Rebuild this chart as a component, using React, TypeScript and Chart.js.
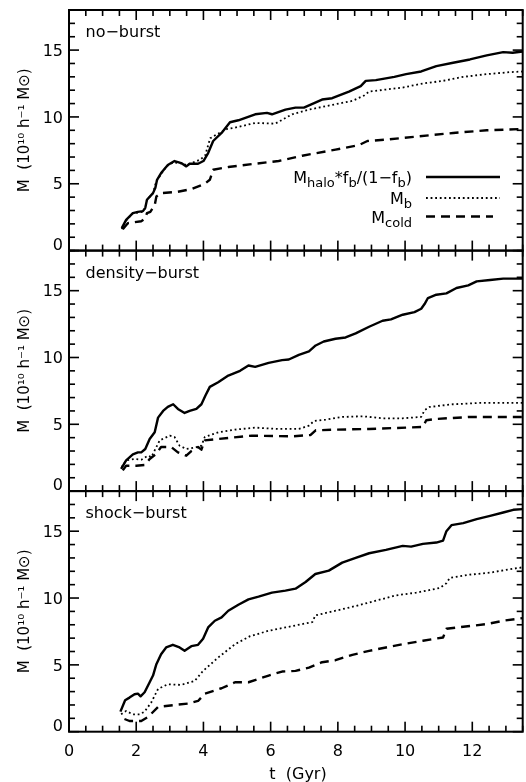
import React, { useEffect, useRef } from "react";
import { Chart, registerables } from "chart.js";

Chart.register(...registerables);

// ---------- data (t in Gyr, M in 1e10 h^-1 Msun) ----------
// no-burst
const tNoHalo = [
  1.57, 1.7, 1.9, 2.05, 2.2, 2.27, 2.32, 2.5, 2.57, 2.62,
  2.74, 2.94, 3.14, 3.34, 3.49, 3.59, 3.84, 4.0, 4.14, 4.29,
  4.54, 4.79, 5.04, 5.54, 5.89, 6.04, 6.44, 6.74, 6.99, 7.53,
  7.83, 8.33, 8.68, 8.83, 9.13, 9.68, 10.03, 10.48, 10.93, 11.43,
  11.93, 12.43, 12.92, 13.2, 13.5,
];
const mNoHalo = [
  1.68, 2.3, 2.8, 2.9, 2.95, 3.2, 3.8, 4.3, 4.7, 5.3,
  5.8, 6.4, 6.7, 6.55, 6.3, 6.5, 6.5, 6.7, 7.3, 8.2,
  8.8, 9.6, 9.75, 10.2, 10.3, 10.2, 10.55, 10.7, 10.7, 11.3,
  11.4, 11.9, 12.3, 12.7, 12.75, 13.0, 13.2, 13.4, 13.8, 14.05,
  14.3, 14.6, 14.85, 14.8, 14.9,
];
const tNoB = [
  1.57, 1.7, 1.9, 2.2, 2.27, 2.32, 2.5, 2.6, 2.9, 3.1,
  3.3, 3.5, 3.7, 3.9, 4.05, 4.2, 4.4, 4.7, 4.94, 5.54,
  6.14, 6.64, 7.14, 7.83, 8.43, 8.78, 8.93, 9.43, 9.93, 10.53,
  11.13, 11.73, 12.43, 13.12, 13.5,
];
const mNoB = [
  1.6, 2.25, 2.8, 2.9, 3.2, 3.8, 4.3, 5.2, 6.3, 6.6,
  6.55, 6.4, 6.6, 6.8, 7.1, 8.4, 8.7, 9.1, 9.2, 9.55,
  9.5, 10.2, 10.55, 10.9, 11.2, 11.6, 11.9, 12.05, 12.2, 12.5,
  12.7, 13.0, 13.2, 13.35, 13.4,
];
const tNoCold = [
  1.6, 1.75, 2.15, 2.27, 2.32, 2.42, 2.55, 2.6, 2.74, 3.24,
  3.64, 4.04, 4.19, 4.29, 4.74, 5.54, 6.24, 6.94, 7.93, 8.63,
  8.88, 9.43, 10.43, 11.43, 12.43, 13.5,
];
const mNoCold = [
  1.6, 2.05, 2.2, 2.4, 2.8, 2.9, 3.4, 4.05, 4.3, 4.4,
  4.6, 5.0, 5.3, 6.05, 6.25, 6.5, 6.7, 7.1, 7.55, 7.9,
  8.2, 8.3, 8.55, 8.8, 9.0, 9.1,
];

// density-burst
const tDenHalo = [
  1.55, 1.7, 1.9, 2.05, 2.15, 2.27, 2.4, 2.55, 2.65, 2.8,
  2.94, 3.1, 3.24, 3.44, 3.59, 3.79, 3.94, 4.06, 4.19, 4.44,
  4.74, 5.09, 5.34, 5.54, 5.94, 6.34, 6.54, 6.84, 7.14, 7.34,
  7.58, 7.93, 8.23, 8.53, 8.93, 9.33, 9.58, 9.93, 10.28, 10.48,
  10.58, 10.68, 10.93, 11.23, 11.53, 11.88, 12.13, 12.53, 12.92, 13.5,
];
const mDenHalo = [
  1.67, 2.3, 2.75, 2.9, 2.9, 3.15, 3.9, 4.4, 5.5, 6.0,
  6.3, 6.5, 6.15, 5.85, 6.0, 6.15, 6.5, 7.15, 7.8, 8.15,
  8.65, 9.0, 9.4, 9.3, 9.6, 9.8, 9.85, 10.2, 10.45, 10.9,
  11.2, 11.4, 11.5, 11.8, 12.3, 12.75, 12.85, 13.2, 13.4, 13.65,
  14.0, 14.45, 14.7, 14.8, 15.2, 15.4, 15.7, 15.8, 15.9, 15.9,
];
const tDenB = [
  1.57, 1.7, 1.95, 2.15, 2.35, 2.45, 2.55, 2.7, 3.0, 3.14,
  3.29, 3.49, 3.74, 3.94, 4.04, 4.44, 4.94, 5.54, 6.24, 6.84,
  7.14, 7.29, 7.64, 8.14, 8.74, 9.33, 9.93, 10.48, 10.58, 10.73,
  11.43, 12.23, 13.5,
];
const mDenB = [
  1.8, 2.3, 2.4, 2.35, 2.65, 2.55, 3.05, 3.8, 4.15, 4.05,
  3.4, 3.15, 3.25, 3.4, 4.05, 4.4, 4.6, 4.75, 4.65, 4.65,
  4.9, 5.25, 5.35, 5.55, 5.6, 5.45, 5.45, 5.55, 6.05, 6.3,
  6.5, 6.6, 6.6,
];
const tDenCold = [
  1.6, 1.7, 2.0, 2.25, 2.4, 2.6, 2.74, 3.04, 3.24, 3.49,
  3.64, 3.84, 3.94, 4.04, 4.44, 5.44, 6.64, 7.19, 7.34, 7.93,
  8.93, 10.53, 10.63, 10.93, 11.93, 13.5,
];
const mDenCold = [
  1.55, 1.9, 1.9, 1.95, 2.4, 2.8, 3.3, 3.3, 2.9, 2.65,
  3.0, 3.3, 3.1, 3.8, 3.9, 4.15, 4.1, 4.2, 4.55, 4.6,
  4.65, 4.8, 5.3, 5.4, 5.55, 5.55,
];

// shock-burst
const tShHalo = [
  1.53, 1.67, 1.8, 1.95, 2.05, 2.13, 2.25, 2.4, 2.5, 2.6,
  2.74, 2.89, 3.09, 3.29, 3.44, 3.64, 3.84, 3.99, 4.14, 4.34,
  4.54, 4.74, 5.04, 5.34, 5.64, 6.04, 6.44, 6.74, 7.04, 7.33,
  7.73, 8.13, 8.53, 8.93, 9.43, 9.93, 10.18, 10.53, 10.93, 11.13,
  11.23, 11.38, 11.73, 12.13, 12.53, 12.92, 13.22, 13.5,
];
const mShHalo = [
  1.5, 2.35, 2.55, 2.8, 2.85, 2.65, 2.95, 3.7, 4.2, 5.05,
  5.8, 6.3, 6.5, 6.3, 6.05, 6.4, 6.5, 6.95, 7.8, 8.3,
  8.55, 9.05, 9.5, 9.9, 10.1, 10.4, 10.55, 10.7, 11.2, 11.8,
  12.05, 12.65, 13.0, 13.35, 13.6, 13.9, 13.85, 14.05, 14.15, 14.3,
  15.0, 15.45, 15.6, 15.9, 16.15, 16.4, 16.6, 16.65,
];
const tShB = [
  1.55, 1.7, 1.9, 2.1, 2.25, 2.45, 2.65, 2.94, 3.34, 3.74,
  3.99, 4.44, 4.94, 5.39, 5.94, 6.44, 6.94, 7.24, 7.33, 7.93,
  8.53, 9.13, 9.73, 10.33, 11.03, 11.23, 11.33, 11.93, 12.53, 13.12,
  13.5,
];
const mShB = [
  1.3, 1.55, 1.3, 1.3, 1.5, 2.2, 3.2, 3.55, 3.5, 3.8,
  4.55, 5.55, 6.55, 7.15, 7.55, 7.8, 8.05, 8.2, 8.7, 9.05,
  9.4, 9.8, 10.2, 10.4, 10.75, 11.1, 11.5, 11.75, 11.9, 12.15,
  12.3,
];
const tShCold = [
  1.65, 1.8, 2.15, 2.35, 2.65, 3.14, 3.54, 3.84, 4.04, 4.54,
  4.94, 5.34, 5.94, 6.34, 6.74, 7.14, 7.53, 7.93, 8.43, 8.93,
  9.43, 9.93, 10.53, 11.13, 11.23, 11.73, 12.43, 12.92, 13.5,
];
const mShCold = [
  0.95, 0.8, 0.8, 1.1, 1.85, 2.0, 2.1, 2.3, 2.85, 3.25,
  3.7, 3.7, 4.2, 4.5, 4.55, 4.8, 5.2, 5.35, 5.75, 6.05,
  6.3, 6.55, 6.8, 7.05, 7.7, 7.85, 8.05, 8.3, 8.5,
];

// axes / labels
const X_MIN = 0;
const X_MAX = 13.5;
const Y_MIN = 0;
const Y_MAX = 18;
const X_TICK_LABELS = [0, 2, 4, 6, 8, 10, 12];
const Y_TICK_LABELS = [0, 5, 10, 15];
const PANEL_NAMES = ["no\u2212burst", "density\u2212burst", "shock\u2212burst"];
const X_TITLE = "t  (Gyr)";
const Y_TITLE = "M  (10\u00B9\u2070 h\u207B\u00B9 M\u2299)";

// ---------- layout / style ----------
const W = 526;
const H = 782;
const PLOT_L = 69;
const PLOT_R = 522.7;
const EDGES = [10, 250.6, 491.1, 731.7];
const CANVAS_TOPS = [0, 244, 484];
const CANVAS_BOTTOMS = [257, 498, 782];
const FONT = "'DejaVu Sans', sans-serif";
const INK = "rgb(0,0,0)";
const TICK_W = 1.6;

type Seg = { text: string; sub?: boolean };
const LEGEND_ROWS: { segs: Seg[]; style: "solid" | "dot" | "dash" }[] = [
  {
    segs: [
      { text: "M" },
      { text: "halo", sub: true },
      { text: "*f" },
      { text: "b", sub: true },
      { text: "/(1\u2212f" },
      { text: "b", sub: true },
      { text: ")" },
    ],
    style: "solid",
  },
  { segs: [{ text: "M" }, { text: "b", sub: true }], style: "dot" },
  { segs: [{ text: "M" }, { text: "cold", sub: true }], style: "dash" },
];

const STYLE = {
  solid: { width: 2.4, dash: [] as number[] },
  dot: { width: 1.8, dash: [1.8, 2.8] },
  dash: { width: 2.4, dash: [9, 6] },
};

function zip(t: number[], m: number[]) {
  const n = Math.min(t.length, m.length);
  const out: { x: number; y: number }[] = [];
  for (let i = 0; i < n; i++) out.push({ x: t[i], y: m[i] });
  return out;
}

const PANEL_DATA = [
  [zip(tNoHalo, mNoHalo), zip(tNoB, mNoB), zip(tNoCold, mNoCold)],
  [zip(tDenHalo, mDenHalo), zip(tDenB, mDenB), zip(tDenCold, mDenCold)],
  [zip(tShHalo, mShHalo), zip(tShB, mShB), zip(tShCold, mShCold)],
];
const SERIES_STYLES: ("solid" | "dot" | "dash")[] = ["solid", "dot", "dash"];

function makePlugin(index: number) {
  return {
    id: "axes" + index,
    afterDraw(chart: any) {
      const ctx = chart.ctx as CanvasRenderingContext2D;
      const a = chart.chartArea;
      const xs = chart.scales.x;
      const ys = chart.scales.y;
      ctx.save();
      ctx.setLineDash([]);
      ctx.globalAlpha = 1;
      ctx.globalCompositeOperation = "source-over";
      ctx.fillStyle = INK;
      ctx.strokeStyle = INK;

      // frame
      ctx.lineWidth = 2;
      ctx.strokeRect(a.left, a.top, a.right - a.left, a.bottom - a.top);

      // x ticks, inward on bottom and top (filled rectangles)
      for (let i = 0; i <= 27; i++) {
        const px = xs.getPixelForValue(X_MIN + i * 0.5);
        const len = i % 4 === 0 ? 10 : 6;
        ctx.fillRect(px - TICK_W / 2, a.bottom - len, TICK_W, len);
        ctx.fillRect(px - TICK_W / 2, a.top, TICK_W, len);
      }
      // y ticks, inward on left and right
      for (let i = 0; i <= 18; i++) {
        const py = ys.getPixelForValue(Y_MIN + i);
        const len = i % 5 === 0 ? 10 : 6;
        ctx.fillRect(a.left, py - TICK_W / 2, len, TICK_W);
        ctx.fillRect(a.right - len, py - TICK_W / 2, len, TICK_W);
      }

      // y tick labels
      ctx.font = `16px ${FONT}`;
      ctx.textAlign = "right";
      ctx.textBaseline = "middle";
      for (const v of Y_TICK_LABELS) {
        const py = ys.getPixelForValue(v) + (v === 0 ? -5 : 1.5);
        ctx.fillText(String(v), a.left - 6, py);
      }

      // y title
      ctx.save();
      ctx.translate(25, (a.top + a.bottom) / 2);
      ctx.rotate(-Math.PI / 2);
      ctx.textAlign = "center";
      ctx.textBaseline = "middle";
      ctx.font = `15px ${FONT}`;
      ctx.fillText(Y_TITLE, 0, 0);
      ctx.restore();

      // panel name
      ctx.font = `16px ${FONT}`;
      ctx.textAlign = "left";
      ctx.textBaseline = "middle";
      ctx.fillText(PANEL_NAMES[index], 85.5, a.top + 23);

      // x labels on bottom panel
      if (index === 2) {
        ctx.textAlign = "center";
        ctx.textBaseline = "middle";
        for (const v of X_TICK_LABELS) {
          ctx.fillText(String(v), xs.getPixelForValue(v), a.bottom + 20);
        }
        ctx.fillText(X_TITLE, 298, a.bottom + 43);
      }

      // legend on top panel
      if (index === 0) {
        const textRight = 412;
        const lineX0 = 426;
        const rowY = [177, 198, 216.5];
        const lineEnds = [500, 500, 493];
        LEGEND_ROWS.forEach((row, r) => {
          const baseY = rowY[r] + 6;
          let total = 0;
          for (const s of row.segs) {
            ctx.font = s.sub ? `13px ${FONT}` : `16px ${FONT}`;
            total += ctx.measureText(s.text).width;
          }
          let x = textRight - total;
          ctx.textAlign = "left";
          ctx.textBaseline = "alphabetic";
          for (const s of row.segs) {
            ctx.font = s.sub ? `13px ${FONT}` : `16px ${FONT}`;
            ctx.fillText(s.text, x, s.sub ? baseY + 4 : baseY);
            x += ctx.measureText(s.text).width;
          }
          const st = STYLE[row.style];
          ctx.lineWidth = st.width;
          ctx.setLineDash(st.dash);
          ctx.beginPath();
          ctx.moveTo(lineX0, rowY[r]);
          ctx.lineTo(lineEnds[r], rowY[r]);
          ctx.stroke();
          ctx.setLineDash([]);
        });
      }
      ctx.restore();
    },
  };
}

function Panel({ index }: { index: number }) {
  const ref = useRef<HTMLCanvasElement | null>(null);
  const top = CANVAS_TOPS[index];
  const h = CANVAS_BOTTOMS[index] - top;
  useEffect(() => {
    if (!ref.current) return;
    const datasets = PANEL_DATA[index].map((d, k) => {
      const st = STYLE[SERIES_STYLES[k]];
      return {
        data: d,
        borderColor: INK,
        backgroundColor: INK,
        borderWidth: st.width,
        borderDash: st.dash,
        borderCapStyle: "butt" as const,
        borderJoinStyle: "round" as const,
        pointRadius: 0,
        tension: 0,
        fill: false,
      };
    });
    const chart = new Chart(ref.current, {
      type: "line",
      data: { datasets },
      options: {
        animation: false,
        responsive: false,
        devicePixelRatio: 1,
        layout: {
          padding: {
            left: PLOT_L,
            right: W - PLOT_R,
            top: EDGES[index] - top,
            bottom: CANVAS_BOTTOMS[index] - EDGES[index + 1],
          },
        },
        plugins: { legend: { display: false }, tooltip: { enabled: false } },
        scales: {
          x: { type: "linear", min: X_MIN, max: X_MAX, display: false },
          y: { type: "linear", min: Y_MIN, max: Y_MAX, display: false },
        },
      },
      plugins: [makePlugin(index)],
    } as any);
    return () => chart.destroy();
  }, [index]);
  return (
    <canvas
      ref={ref}
      width={W}
      height={h}
      style={{ position: "absolute", left: 0, top, width: W, height: h }}
    />
  );
}

export default function App() {
  return (
    <div
      style={{
        position: "absolute",
        left: 0,
        top: 0,
        width: W,
        height: H,
        background: "#fff",
        overflow: "hidden",
      }}
    >
      {[0, 1, 2].map((i) => (
        <Panel key={i} index={i} />
      ))}
    </div>
  );
}
